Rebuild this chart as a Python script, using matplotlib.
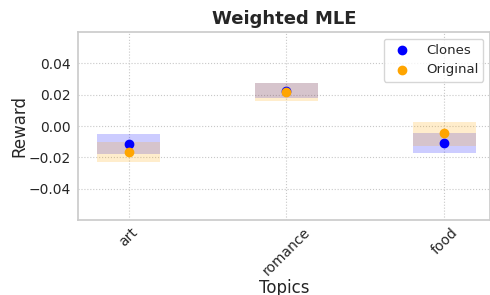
import matplotlib
matplotlib.use("Agg")
import matplotlib.pyplot as plt
import seaborn as sns
import numpy as np

topics = ["art", "romance", "food"]
clones_mean = [-0.0113, 0.0226, -0.0109]
clones_low = [-0.0179, 0.0177, -0.0171]
clones_high = [-0.0049, 0.0277, -0.0043]
orig_mean = [-0.0166, 0.0217, -0.0047]
orig_low = [-0.0228, 0.0160, -0.0126]
orig_high = [-0.0100, 0.0275, 0.0027]

sns.set_theme(style="whitegrid")
fig = plt.figure(figsize=(4.9, 2.95), dpi=100)
ax = fig.add_axes([78/490, 1-220/295, (490-78)/490, (220-32)/295])

x = np.arange(len(topics))
for i in range(len(topics)):
    ax.fill_between([x[i]-0.2, x[i]+0.2], clones_low[i], clones_high[i], color="blue", alpha=0.2, linewidth=0)
    ax.fill_between([x[i]-0.2, x[i]+0.2], orig_low[i], orig_high[i], color="orange", alpha=0.2, linewidth=0)
ax.scatter(x, clones_mean, color="blue", s=36, label="Clones", zorder=3)
ax.scatter(x, orig_mean, color="orange", s=36, label="Original", zorder=3)

ax.set_xticks(x)
ax.set_xticklabels(topics, rotation=45, fontsize=10)
ax.set_xlim(-0.32, 2.29)
ax.set_ylim(-0.06, 0.06)
ax.set_yticks([-0.04, -0.02, 0.0, 0.02, 0.04])
ax.tick_params(axis="y", labelsize=10, length=0, pad=5)
ax.tick_params(axis="x", length=0, pad=4)
ax.grid(True, linestyle=":", linewidth=0.8, color="#c8c8c8")
ax.set_title("Weighted MLE", fontsize=13, fontweight="bold")
ax.set_xlabel("Topics", fontsize=12, labelpad=0)
ax.set_ylabel("Reward", fontsize=12, labelpad=0)
ax.legend(loc="upper right", fontsize=9.5)
fig.savefig("out.png", dpi=100)
